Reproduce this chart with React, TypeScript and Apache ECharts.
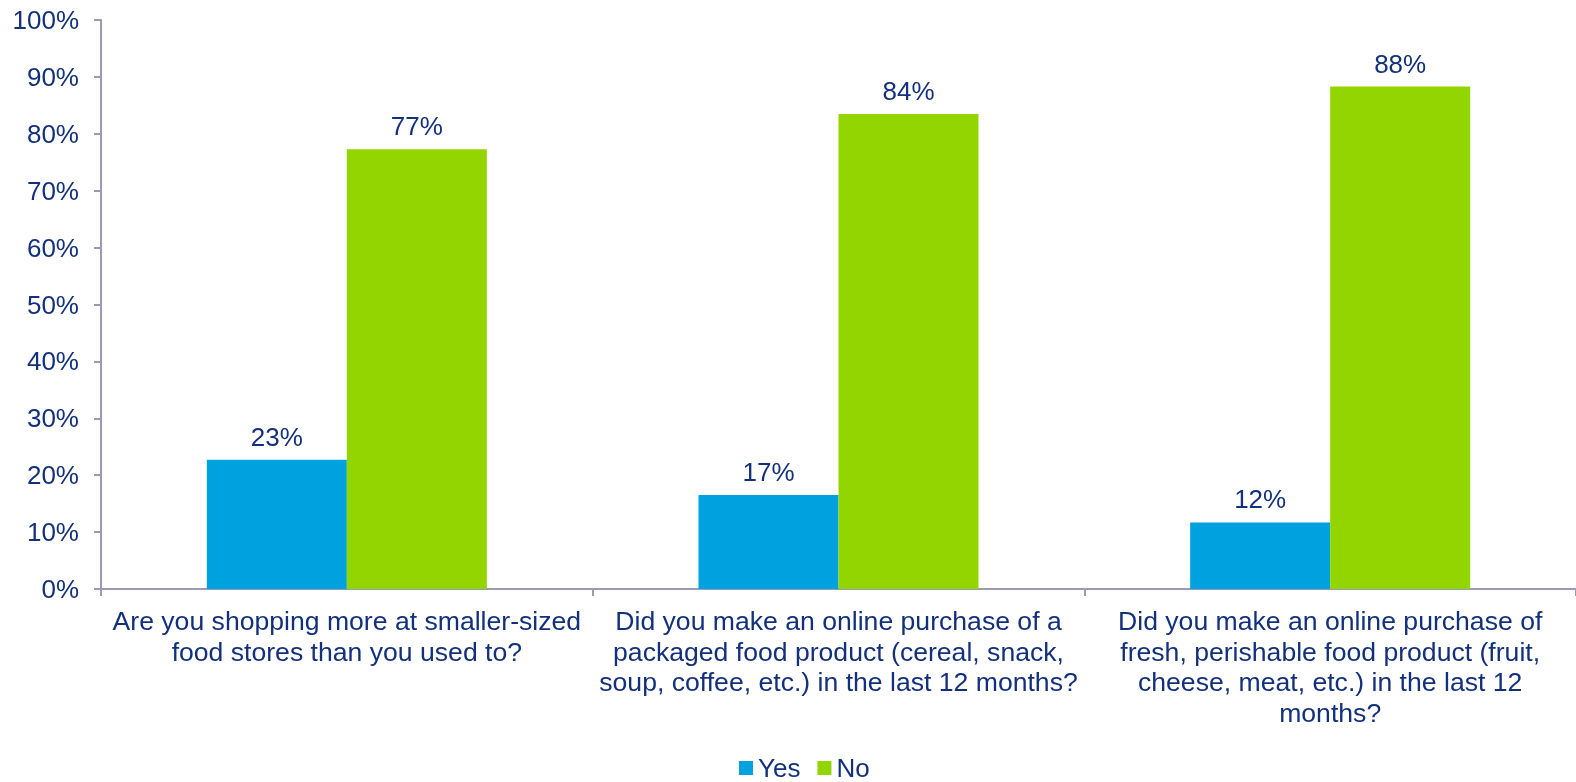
import React, { useEffect, useRef } from "react";
import * as echarts from "echarts";

const categories = [
  "Are you shopping more at smaller-sized\nfood stores than you used to?",
  "Did you make an online purchase of a\npackaged food product (cereal, snack,\nsoup, coffee, etc.) in the last 12 months?",
  "Did you make an online purchase of\nfresh, perishable food product (fruit,\ncheese, meat, etc.) in the last 12\nmonths?",
];
const yesValues = [22.7, 16.5, 11.7];
const noValues = [77.3, 83.5, 88.3];
const seriesNames = ["Yes", "No"];

const NAVY = "#12307c";
const AXIS = "#9a9ab4";
const FONT = "'Liberation Sans', Arial, sans-serif";

export default function App() {
  const ref = useRef<HTMLDivElement>(null);
  useEffect(() => {
    if (!ref.current) return;
    const chart = echarts.init(ref.current, undefined, { renderer: "svg" });
    const labelCfg = {
      show: true,
      position: "top",
      distance: 10,
      color: NAVY,
      fontSize: 26,
      fontFamily: FONT,
      formatter: (p: any) => Math.round(p.value) + "%",
    };
    chart.setOption({
      animation: false,
      textStyle: { fontFamily: FONT },
      grid: { left: 101, top: 20, width: 1479, height: 569 },
      legend: {
        left: 739,
        top: 755,
        itemWidth: 14,
        itemHeight: 14,
        itemGap: 17,
        icon: "rect",
        padding: 0,
        textStyle: { color: NAVY, fontSize: 26, fontFamily: FONT, lineHeight: 26 },
        data: seriesNames,
      },
      xAxis: {
        type: "category",
        data: categories,
        axisLine: { show: true, lineStyle: { color: AXIS, width: 2 } },
        axisTick: { show: true, length: 7, lineStyle: { color: AXIS, width: 2 } },
        axisLabel: {
          interval: 0,
          color: NAVY,
          fontSize: 26.6,
          lineHeight: 30.5,
          fontFamily: FONT,
          margin: 17,
          align: "center",
        },
      },
      yAxis: {
        type: "value",
        min: 0,
        max: 100,
        interval: 10,
        axisLine: { show: true, lineStyle: { color: AXIS, width: 2 } },
        axisTick: { show: true, length: 7, lineStyle: { color: AXIS, width: 2 } },
        splitLine: { show: false },
        axisLabel: {
          color: NAVY,
          fontSize: 26,
          fontFamily: FONT,
          margin: 22,
          formatter: "{value}%",
        },
      },
      series: [
        {
          name: seriesNames[0],
          type: "bar",
          data: yesValues,
          barWidth: 140,
          barGap: "0%",
          itemStyle: { color: "#00a1df" },
          label: labelCfg,
        },
        {
          name: seriesNames[1],
          type: "bar",
          data: noValues,
          barWidth: 140,
          barGap: "0%",
          itemStyle: { color: "#93d500" },
          label: labelCfg,
        },
      ],
    });
    return () => chart.dispose();
  }, []);
  return (
    <div
      ref={ref}
      style={{ position: "fixed", left: 0, top: 0, width: 1576, height: 782 }}
    />
  );
}
